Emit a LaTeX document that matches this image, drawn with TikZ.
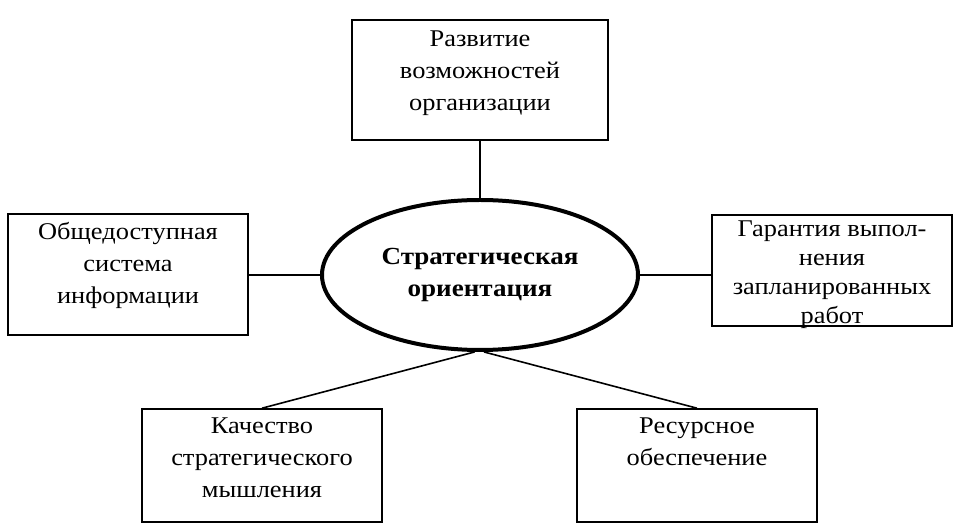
\documentclass[tikz,border=0pt]{standalone}
\usepackage{fontspec}
\setmainfont{Liberation Serif}[FakeStretch=1.1]
\usetikzlibrary{shapes.geometric}

\begin{document}
\begin{tikzpicture}[x=0.5pt, y=-0.5pt,
    blk/.style={draw, line width=0.8pt, minimum width=120pt, minimum height=56pt, inner sep=0pt},
    lbl/.style={anchor=north, align=center, inner sep=4.5pt, font=\fontsize{12}{16}\selectfont},
    ell/.style={ellipse, draw, line width=2pt, minimum width=158pt, minimum height=75pt, inner sep=0pt, align=center, font=\fontsize{12.3}{16}\selectfont\bfseries},
    con/.style={line width=0.8pt}]
      \useasboundingbox (0,0) rectangle (969,528);

      \node[ell] (el) at (480,275) {Стратегическая\\ориентация};

      \node[blk, minimum width=128pt, minimum height=60pt] (razv) at (480,80) {};
      \node[lbl, inner sep=5.5pt] at (razv.north) {Развитие\\возможностей\\организации};

      \node[blk, minimum height=60.5pt] (obsh) at (128,274.5) {};
      \node[lbl] at (obsh.north) {Общедоступная\\система\\информации};

      \node[blk, minimum height=55.5pt] (gar) at (832,270.5) {};
      \node[lbl, inner sep=3pt, font=\fontsize{12}{14.5}\selectfont] at (gar.north) {Гарантия выпол-\\нения\\запланированных\\работ};

      \node[blk, minimum height=56.5pt] (kach) at (262,465.5) {};
      \node[lbl] at (kach.north) {Качество\\стратегического\\мышления};

      \node[blk, minimum height=56.5pt] (res) at (697,465.5) {};
      \node[lbl] at (res.north) {Ресурсное\\обеспечение};

      \draw[con] (razv) -- (el);
      \draw[con] (el.west) -- (el.west -| obsh.east);
      \draw[con] (el.east) -- (el.east -| gar.west);
      \draw[con] (el.266) -- (kach.north);
      \draw[con] (el.273) -- (res.north);
    \end{tikzpicture}
\end{document}
